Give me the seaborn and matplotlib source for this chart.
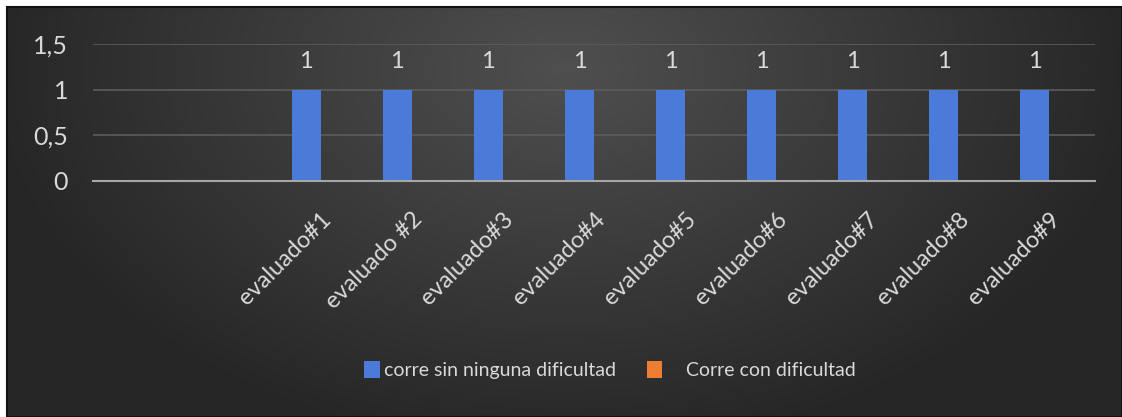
import numpy as np
import pandas as pd
import matplotlib
matplotlib.use('Agg')
import matplotlib.pyplot as plt
import seaborn as sns
from matplotlib.patches import Rectangle, Patch

# chart data
categorias = [" ", "  ", "evaluado#1", "evaluado #2", "evaluado#3", "evaluado#4",
              "evaluado#5", "evaluado#6", "evaluado#7", "evaluado#8", "evaluado#9"]
sin_dificultad = [np.nan, np.nan, 1, 1, 1, 1, 1, 1, 1, 1, 1]
con_dificultad = [np.nan] * 11
series = ["corre sin ninguna dificultad", "Corre con dificultad"]
colores = ["#4a7bd8", "#ed7d31"]
yticks = [0, 0.5, 1, 1.5]
ytick_labels = ["0", "0,5", "1", "1,5"]

df = pd.DataFrame({
    "evaluado": categorias * 2,
    "valor": sin_dificultad + con_dificultad,
    "serie": [series[0]] * 11 + [series[1]] * 11,
})

sns.set_style("dark")
plt.rcParams['font.family'] = ['Lato', 'DejaVu Sans']
txt = "#d9d9d9"

W, H = 1122, 417
fig = plt.figure(figsize=(W / 100, H / 100), dpi=100)
fig.patch.set_facecolor("white")

# dark radial gradient background of the chart area
bg = fig.add_axes([7 / W, 0, 1 - 7 / W, (H - 7) / H], zorder=-5)
xx, yy = np.meshgrid(np.linspace(0, 1, 400), np.linspace(0, 1, 200))
r = np.sqrt(((xx - 0.5) / 0.55) ** 2 + ((yy - 0.15) / 1.0) ** 2)
shade = np.clip(0.31 - 0.17 * r, 0.15, 0.31)
bg.imshow(np.dstack([shade] * 3), extent=[0, 1, 0, 1], aspect="auto", origin="upper")
bg.set_axis_off()
fig.add_artist(Rectangle((7 / W, 0), 1 - 7 / W, (H - 7) / H, transform=fig.transFigure,
                         fill=False, edgecolor="#111111", linewidth=1.5))

ax = fig.add_axes([93 / W, (H - 181) / H, (1095 - 93) / W, (181 - 44) / H])
ax.set_facecolor("none")
sns.barplot(data=df, x="evaluado", y="valor", hue="serie", order=categorias,
            hue_order=series, palette=colores, width=0.64, ax=ax, legend=False,
            saturation=1, errorbar=None, linewidth=0, edgecolor="none")

for cont in ax.containers:
    vals = [b.get_height() for b in cont]
    labels = ["" if np.isnan(v) else f"{v:g}" for v in vals]
    ax.bar_label(cont, labels=labels, padding=13, color=txt, fontsize=17)

ax.set_ylim(0, 1.5)
ax.set_xlim(-0.5, len(categorias) - 0.5)
ax.set_yticks(yticks)
ax.set_yticklabels(ytick_labels, color=txt, fontsize=18)
ax.set_xticks(range(len(categorias)))
ax.set_xticklabels(categorias, rotation=45, ha="right", rotation_mode="anchor",
                   color=txt, fontsize=17)
ax.tick_params(axis="y", length=0, pad=18)
ax.tick_params(axis="x", length=0, pad=20)
ax.grid(axis="y", color="#5c5c5c", linewidth=1.2)
ax.grid(axis="x", visible=False)
ax.set_axisbelow(True)
for s in ["top", "right", "left"]:
    ax.spines[s].set_visible(False)
ax.spines["bottom"].set_color("#a6a6a6")
ax.spines["bottom"].set_linewidth(1.5)
ax.set_xlabel("")
ax.set_ylabel("")

handles = [Patch(facecolor=c, edgecolor="none") for c in colores]
leg_labels = [series[0], "    " + series[1]]
fig.legend(handles, leg_labels, loc="center", bbox_to_anchor=(610 / W, (H - 370) / H),
           ncol=2, frameon=False, fontsize=14, labelcolor=txt,
           handlelength=0.8, handleheight=1.0, handletextpad=0.2, columnspacing=1.6)

fig.savefig("out.png", dpi=100, facecolor=fig.get_facecolor())
